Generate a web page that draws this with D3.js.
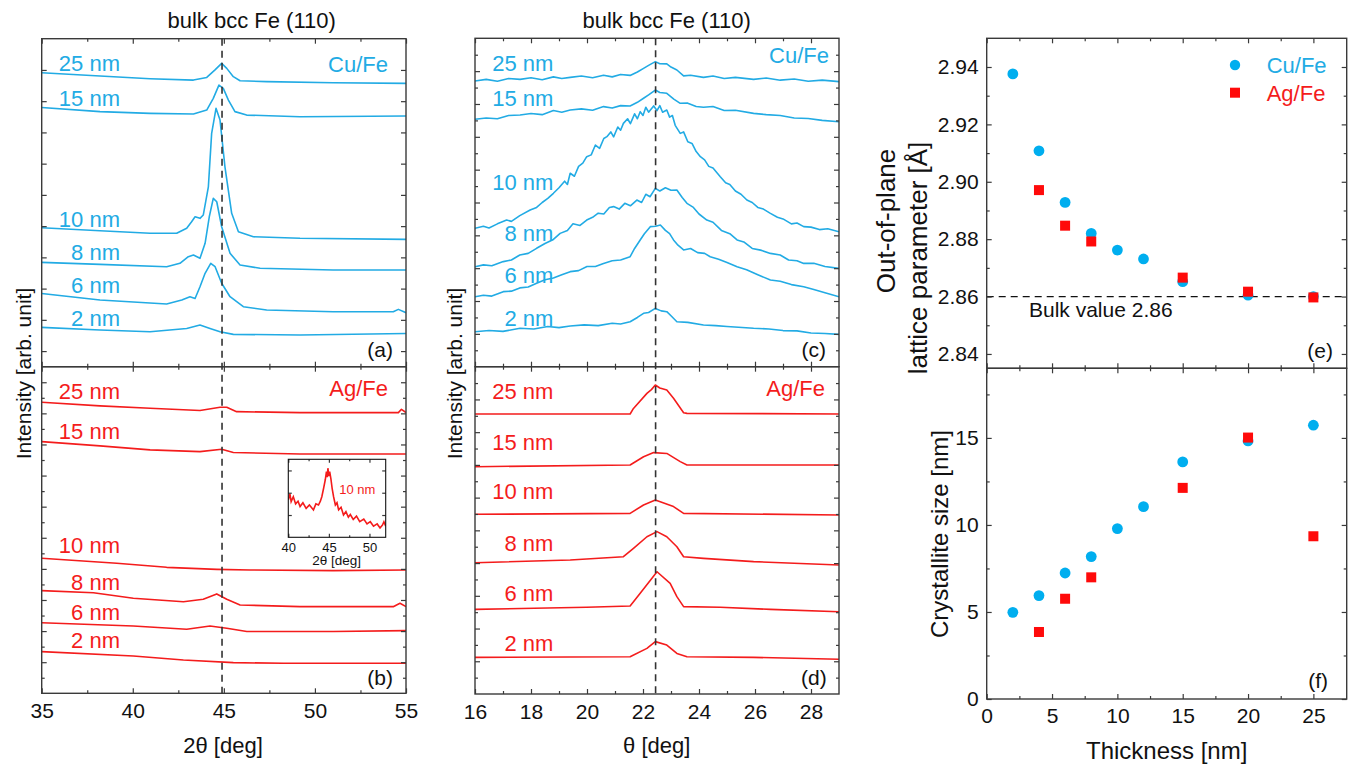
<!DOCTYPE html>
<html>
<head>
<meta charset="utf-8">
<title>Fe (110) thickness series</title>
<script src="https://cdn.jsdelivr.net/npm/d3@7/dist/d3.min.js"></script>
<style>
  body { margin: 0; background: #fff; }
  text { font-family: "Liberation Sans", Arial, Helvetica, sans-serif; }
</style>
</head>
<body>
<svg id="chart" width="1357" height="764"></svg>
<script>
// ---- values ----
const thicknessLabels = ['25 nm', '15 nm', '10 nm', '8 nm', '6 nm', '2 nm'];

// (a) Cu/Fe, 2theta scans  [2theta, intensity]
const a25 = [[35,18.82],[38.2,18.61],[40.95,18.44],[43.33,18.35],[44.06,18.52],[44.5,18.99],[44.88,19.42],[45.16,19.10],[45.52,18.57],[45.89,18.31],[47.35,18.25],[51.0,18.18],[55,18.14]];
const a15 = [[35,16.60],[38.2,16.33],[40.95,16.22],[43.33,16.18],[44.06,16.43],[44.42,17.18],[44.73,18.03],[44.97,17.82],[45.25,17.07],[45.61,16.33],[46.25,16.11],[49.18,16.00],[55,16.05]];
const a10 = [[35,8.90],[38.2,8.70],[40.95,8.54],[42.41,8.54],[42.96,8.86],[43.23,9.28],[43.42,9.60],[43.69,9.50],[43.87,9.71],[44.15,11.52],[44.33,14.94],[44.57,16.54],[44.79,15.79],[45.06,12.80],[45.43,9.82],[45.80,8.64],[46.62,8.32],[49.18,8.22],[55,8.15]];
const a8 = [[35,6.68],[38.2,6.55],[41.86,6.40],[42.59,6.62],[43.05,7.04],[43.33,7.15],[43.69,6.94],[43.97,7.90],[44.20,9.60],[44.42,10.78],[44.61,10.56],[44.88,8.96],[45.34,7.26],[45.89,6.51],[46.99,6.30],[51.0,6.19],[55,6.19]];
const a6 = [[35,4.69],[38.2,4.27],[41.86,4.01],[42.69,4.27],[43.14,4.48],[43.42,4.37],[43.69,5.12],[43.97,5.98],[44.28,6.62],[44.52,6.40],[44.88,5.34],[45.34,4.48],[46.07,3.84],[47.35,3.63],[51.0,3.52],[54.30,3.52],[54.58,3.67],[55,3.46]];
const a2 = [[35,2.52],[38.2,2.35],[40.95,2.24],[42.96,2.45],[43.69,2.67],[44.24,2.45],[44.79,2.24],[45.52,2.07],[49.18,2.03],[55,2.13]];

// (b) Ag/Fe, 2theta scans
const b25 = [[35,18.71],[38.2,18.48],[40.95,18.33],[43.69,18.18],[44.79,18.39],[45.16,18.39],[45.7,18.11],[49.18,18.05],[54.58,18.05],[54.75,18.26],[55,18.05]];
const b15 = [[35,16.18],[38.2,15.91],[40.95,15.65],[43.69,15.54],[44.88,15.69],[45.52,15.48],[49.18,15.39],[55,15.39]];
const b10 = [[35,8.68],[39.12,8.36],[41.86,8.10],[44.61,7.97],[46.44,7.93],[51.0,7.89],[55,7.93]];
const b8 = [[35,6.60],[37.84,6.47],[40.03,6.11],[42.78,5.89],[43.87,6.05],[44.61,6.39],[45.16,6.05],[45.89,5.68],[49.18,5.57],[54.30,5.57],[54.67,5.79],[55,5.57]];
const b6 = [[35,4.54],[40.03,4.33],[42.96,4.12],[44.24,4.33],[45.16,4.18],[46.26,3.97],[51.0,3.97],[55,4.03]];
const b2 = [[35,2.68],[40.03,2.40],[42.78,2.14],[45.52,1.97],[48.27,1.93],[55,1.93]];

// inset of (b): Ag/Fe 10 nm
const inset10 = [[40,1.67],[40.2,1.95],[40.35,1.6],[40.62,1.82],[40.9,1.5],[41.2,1.62],[41.45,1.38],[41.8,1.55],[42.2,1.3],[42.6,1.45],[43.1,1.23],[43.4,1.5],[43.72,1.45],[43.95,1.62],[44.13,1.82],[44.35,2.2],[44.55,2.57],[44.7,2.95],[44.8,2.7],[44.88,3.1],[45.0,2.75],[45.1,2.95],[45.25,2.62],[45.4,2.2],[45.58,1.82],[45.8,1.45],[46.0,1.55],[46.2,1.23],[46.5,1.35],[46.8,1.0],[47.1,1.15],[47.4,0.9],[47.64,1.02],[48.0,0.8],[48.4,0.95],[48.8,0.7],[49.3,0.82],[49.7,0.6],[50.1,0.7],[50.5,0.5],[50.95,0.6],[51.3,0.42],[51.6,0.55],[51.78,0.7],[52,0.5]];

// (c) Cu/Fe, theta scans
const c25 = [[16,17.40],[16.4,17.5],[16.8,17.38],[17.2,17.55],[17.61,17.50],[18.0,17.6],[18.4,17.48],[18.8,17.65],[19.1,17.55],[19.40,17.62],[19.8,17.7],[20.2,17.6],[20.59,17.75],[20.9,17.65],[21.2,17.8],[21.54,17.74],[21.8,17.95],[22.02,18.17],[22.2,18.35],[22.44,18.58],[22.6,18.45],[22.85,18.44],[23.0,18.25],[23.21,18.07],[23.45,17.71],[23.7,17.75],[24.16,17.62],[24.5,17.7],[24.9,17.55],[25.3,17.62],[25.95,17.50],[26.4,17.58],[26.9,17.45],[27.4,17.52],[27.9,17.38],[28.4,17.45],[29,17.36]];
const c15 = [[16,15.07],[16.4,15.15],[16.8,15.1],[17.2,15.3],[17.61,15.33],[18.0,15.42],[18.4,15.35],[18.8,15.6],[19.1,15.5],[19.40,15.63],[19.8,15.7],[20.2,15.62],[20.59,15.84],[20.9,15.75],[21.2,15.9],[21.54,15.88],[21.8,16.1],[22.02,16.35],[22.2,16.55],[22.44,16.85],[22.6,16.7],[22.85,16.65],[23.1,16.3],[23.33,16.04],[23.6,16.05],[23.9,15.85],[24.16,15.80],[24.5,15.85],[24.9,15.6],[25.3,15.62],[25.95,15.43],[26.4,15.35],[26.9,15.3],[27.4,15.15],[27.9,15.12],[28.4,15.0],[29,14.92]];
const c10 = [[16,8.43],[16.3,8.55],[16.5,8.45],[16.8,8.7],[17.13,8.93],[17.3,8.85],[17.6,9.2],[17.97,9.54],[18.2,9.7],[18.4,10.0],[18.6,10.25],[18.80,10.56],[19.0,10.9],[19.2,11.3],[19.3,11.1],[19.40,11.78],[19.55,11.6],[19.7,12.2],[19.85,12.4],[19.99,12.79],[20.15,12.9],[20.3,13.5],[20.45,13.3],[20.6,13.9],[20.71,14.01],[20.85,14.3],[20.95,14.0],[21.1,14.6],[21.2,14.4],[21.30,14.82],[21.45,15.1],[21.55,14.8],[21.7,15.4],[21.8,15.1],[21.90,15.53],[22.0,15.3],[22.1,15.8],[22.2,15.5],[22.38,15.88],[22.5,15.6],[22.6,15.9],[22.7,15.5],[22.85,15.63],[22.95,15.2],[23.05,15.3],[23.15,14.7],[23.33,14.21],[23.45,14.3],[23.6,13.7],[23.75,13.6],[23.9,13.1],[24.05,12.79],[24.2,12.6],[24.35,12.2],[24.5,12.1],[24.76,11.57],[24.95,11.2],[25.1,11.1],[25.3,10.7],[25.5,10.5],[25.71,10.15],[25.9,10.0],[26.1,9.7],[26.3,9.6],[26.55,9.34],[26.8,9.1],[27.0,9.0],[27.3,8.7],[27.5,8.75],[27.74,8.53],[28.0,8.5],[28.3,8.35],[28.6,8.4],[29,8.22]];
const c8 = [[16,6.09],[16.3,6.2],[16.6,6.15],[17.01,6.40],[17.3,6.5],[17.6,6.8],[17.9,6.9],[18.20,7.21],[18.5,7.5],[18.8,7.75],[19.04,8.12],[19.3,8.3],[19.5,8.7],[19.75,8.6],[19.99,8.93],[20.2,9.1],[20.4,9.35],[20.6,9.3],[20.8,9.7],[20.95,9.75],[21.15,9.6],[21.35,9.95],[21.55,9.8],[21.78,10.15],[21.95,10.0],[22.1,10.5],[22.25,10.35],[22.44,10.86],[22.6,10.7],[22.8,10.9],[23.0,10.75],[23.21,10.76],[23.4,10.3],[23.57,9.95],[23.8,9.7],[24.0,9.3],[24.28,8.93],[24.5,8.8],[24.8,8.3],[25.1,8.1],[25.36,7.72],[25.6,7.6],[25.9,7.2],[26.2,7.1],[26.55,6.90],[26.9,6.8],[27.2,6.5],[27.5,6.45],[27.74,6.29],[28.1,6.3],[28.5,6.1],[29,5.99]];
const c6 = [[16,4.26],[16.3,4.35],[16.6,4.3],[17.01,4.57],[17.3,4.6],[17.6,4.8],[17.9,4.85],[18.20,5.08],[18.5,5.3],[18.8,5.4],[19.1,5.6],[19.40,5.79],[19.7,5.85],[20.0,6.1],[20.3,6.1],[20.59,6.29],[20.9,6.45],[21.2,6.5],[21.54,6.70],[21.7,7.2],[21.90,7.72],[22.05,8.1],[22.26,8.53],[22.45,8.55],[22.62,8.63],[22.8,8.3],[22.95,8.1],[23.09,7.72],[23.25,7.4],[23.45,7.11],[23.7,7.2],[23.95,6.95],[24.2,6.9],[24.40,6.70],[24.7,6.55],[25.0,6.35],[25.36,6.09],[25.7,5.9],[26.1,5.6],[26.55,5.28],[26.9,5.2],[27.3,5.0],[27.74,4.87],[28.1,4.7],[28.5,4.5],[29,4.26]];
const c2 = [[16,2.13],[16.5,2.2],[17.0,2.15],[17.61,2.34],[18.1,2.3],[18.6,2.45],[19.0,2.38],[19.40,2.48],[19.9,2.55],[20.4,2.5],[20.9,2.65],[21.2,2.6],[21.54,2.74],[21.8,3.0],[22.02,3.25],[22.2,3.3],[22.44,3.55],[22.65,3.4],[22.85,3.35],[23.0,3.1],[23.21,2.74],[23.6,2.7],[24.16,2.54],[24.6,2.5],[25.0,2.45],[25.95,2.34],[26.5,2.3],[27.0,2.2],[27.5,2.18],[28.0,2.05],[28.5,2.02],[29,1.97]];

// (d) Ag/Fe, theta scans
const d25 = [[16,17.11],[21.54,17.11],[21.66,17.45],[22.14,18.37],[22.3,18.6],[22.44,18.88],[22.6,18.7],[22.85,18.57],[23.09,18.07],[23.45,17.19],[23.57,17.15],[29,17.11]];
const d15 = [[16,13.89],[21.54,13.99],[22.02,14.50],[22.38,14.75],[22.85,14.70],[23.33,14.20],[23.57,13.99],[29,13.99]];
const d10 = [[16,10.98],[21.54,11.04],[22.02,11.55],[22.44,11.85],[23.09,11.45],[23.45,11.04],[29,10.94]];
const d8 = [[16,8.02],[19.40,8.19],[21.30,8.39],[21.66,8.90],[22.14,9.61],[22.50,9.92],[22.85,9.61],[23.21,9.00],[23.45,8.39],[24.16,8.29],[25.95,8.09],[29,7.88]];
const d6 = [[16,5.17],[19.99,5.30],[21.54,5.38],[21.90,6.15],[22.32,7.07],[22.50,7.47],[22.97,6.76],[23.21,5.95],[23.45,5.34],[24.76,5.30],[26.55,5.17],[29,5.03]];
const d2 = [[16,2.24],[21.54,2.28],[22.14,2.79],[22.44,3.20],[22.85,2.99],[23.21,2.48],[23.57,2.28],[25.95,2.24],[29,2.12]];

// (e)/(f) vs thickness
const thicknessCu = [2, 4, 6, 8, 10, 12, 15, 20, 25];
const latticeCu = [2.9376, 2.9108, 2.8928, 2.8820, 2.8762, 2.8731, 2.8652, 2.8605, 2.8600];
const sizeCu = [4.98, 5.94, 7.24, 8.18, 9.79, 11.05, 13.62, 14.83, 15.73];
const thicknessAg = [4, 6, 8, 15, 20, 25];
const latticeAg = [2.8971, 2.8847, 2.8792, 2.8666, 2.8617, 2.8597];
const sizeAg = [3.85, 5.76, 6.99, 12.13, 15.02, 9.35];
const bulkLattice = 2.86;

// tick values
const ticks2Theta = [35, 40, 45, 50, 55];
const ticksTheta = [16, 18, 20, 22, 24, 26, 28];
const ticksThickness = [0, 5, 10, 15, 20, 25];
const ticksLattice = [2.84, 2.86, 2.88, 2.90, 2.92, 2.94];
const ticksSize = [0, 5, 10, 15];
const ticksInset = [40, 45, 50];

// ---- styling ----
const CU = '#22abe4';
const AG = '#f41c1c';
const CU_MARK = '#00aeef';
const AG_MARK = '#ff0a0a';
const AXIS = '#3a3a3a';
const FONT = '"Liberation Sans", Arial, Helvetica, sans-serif';

const svg = d3.select('#chart');
let clipCount = 0;
const range = (a, b, s) => d3.range(a, b + s / 2, s);

function tickAxis(parent, axis, transform, size) {
  const a = parent.append('g')
    .attr('transform', transform)
    .call(axis)
    .attr('font-family', FONT)
    .attr('font-size', size || 21);
  a.select('.domain').remove();
  a.selectAll('line').attr('stroke', AXIS).attr('stroke-width', 1.2);
  a.selectAll('text').attr('fill', '#111');
  return a;
}

function makePanel(p) {
  const x = d3.scaleLinear().domain(p.xDomain).range([p.x0, p.x1]);
  const y = d3.scaleLinear().domain(p.yDomain).range([p.y1, p.y0]);
  const id = 'clip' + (clipCount++);
  svg.append('clipPath').attr('id', id).append('rect')
    .attr('x', p.x0).attr('y', p.y0).attr('width', p.x1 - p.x0).attr('height', p.y1 - p.y0);
  const g = svg.append('g');
  if (p.bg) {
    g.append('rect').attr('x', p.x0).attr('y', p.y0)
      .attr('width', p.x1 - p.x0).attr('height', p.y1 - p.y0).attr('fill', '#fff');
  }
  const plot = g.append('g').attr('clip-path', `url(#${id})`);
  const axes = g.append('g');
  const L = p.tickLen || 5, S = p.minorLen || 3;
  const none = () => '';
  const fs = p.fontSize || 21;

  // bottom / top
  tickAxis(axes, d3.axisBottom(x).tickValues(p.xMajor).tickSizeInner(-L).tickSizeOuter(0)
    .tickPadding(p.xPad || 10).tickFormat(p.xFmt || none), `translate(0,${p.y1})`, fs);
  tickAxis(axes, d3.axisTop(x).tickValues(p.xMajor).tickSizeInner(-L).tickSizeOuter(0)
    .tickFormat(none), `translate(0,${p.y0})`);
  if (p.xMinor) {
    tickAxis(axes, d3.axisBottom(x).tickValues(p.xMinor).tickSizeInner(-S).tickSizeOuter(0)
      .tickFormat(none), `translate(0,${p.y1})`);
    tickAxis(axes, d3.axisTop(x).tickValues(p.xMinor).tickSizeInner(-S).tickSizeOuter(0)
      .tickFormat(none), `translate(0,${p.y0})`);
  }
  // left / right
  tickAxis(axes, d3.axisLeft(y).tickValues(p.yMajor).tickSizeInner(-L).tickSizeOuter(0)
    .tickPadding(p.yPad || 8).tickFormat(p.yFmt || none), `translate(${p.x0},0)`, fs);
  tickAxis(axes, d3.axisRight(y).tickValues(p.yMajor).tickSizeInner(-L).tickSizeOuter(0)
    .tickFormat(none), `translate(${p.x1},0)`);
  if (p.yMinor) {
    tickAxis(axes, d3.axisLeft(y).tickValues(p.yMinor).tickSizeInner(-S).tickSizeOuter(0)
      .tickFormat(none), `translate(${p.x0},0)`);
    tickAxis(axes, d3.axisRight(y).tickValues(p.yMinor).tickSizeInner(-S).tickSizeOuter(0)
      .tickFormat(none), `translate(${p.x1},0)`);
  }
  axes.append('rect')
    .attr('x', p.x0).attr('y', p.y0)
    .attr('width', p.x1 - p.x0).attr('height', p.y1 - p.y0)
    .attr('fill', 'none').attr('stroke', p.frame || AXIS).attr('stroke-width', p.frameW || 1.4);
  return { x, y, plot, axes, g, p };
}

function drawScans(panel, scans, color, labelEndX, labelY) {
  const line = d3.line().x(d => panel.x(d[0])).y(d => panel.y(d[1]));
  panel.plot.selectAll(null)
    .data(scans)
    .join('path')
    .attr('d', line)
    .attr('fill', 'none')
    .attr('stroke', color)
    .attr('stroke-width', 1.6)
    .attr('stroke-linejoin', 'round');
  panel.g.selectAll(null)
    .data(thicknessLabels)
    .join('text')
    .attr('x', labelEndX)
    .attr('y', (d, i) => labelY[i])
    .attr('text-anchor', 'end')
    .attr('fill', color)
    .attr('font-size', 22)
    .text(d => d);
}

function addText(txt, x, y, opts = {}) {
  const t = svg.append('text')
    .attr('x', x).attr('y', y)
    .attr('font-size', opts.size || 21)
    .attr('fill', opts.color || '#111')
    .attr('text-anchor', opts.anchor || 'start')
    .text(txt);
  if (opts.rotate) t.attr('transform', `rotate(-90,${x},${y})`);
  return t;
}

function vDashed(x, y0, y1) {
  svg.append('line')
    .attr('x1', x).attr('x2', x).attr('y1', y0).attr('y2', y1)
    .attr('stroke', '#333').attr('stroke-width', 1.6)
    .attr('stroke-dasharray', '7,5');
}

// ---- (a) and (b) ----
const pa = makePanel({
  x0: 41.7, x1: 406, y0: 38.7, y1: 366.7,
  xDomain: [35, 55], yDomain: [0, 21],
  xMajor: ticks2Theta, xMinor: [37.5, 42.5, 47.5, 52.5],
  yMajor: range(1, 19, 2)
});
drawScans(pa, [a25, a15, a10, a8, a6, a2], CU, 120, [71, 106, 226.7, 260, 293.3, 325.7]);

const pb = makePanel({
  x0: 41.7, x1: 406, y0: 366.7, y1: 693.3,
  xDomain: [35, 55], yDomain: [0, 21],
  xMajor: ticks2Theta, xMinor: [37.5, 42.5, 47.5, 52.5],
  yMajor: range(2, 20, 2), yMinor: range(1, 19, 2),
  xFmt: d3.format('d'), xPad: 10
});
drawScans(pb, [b25, b15, b10, b8, b6, b2], AG, 120, [399.3, 439, 553.3, 590, 620, 647.7]);

vDashed(pa.x(44.9), 38.7, 693.3);

// inset
const pin = makePanel({
  x0: 288.3, x1: 385.7, y0: 459.3, y1: 537.3,
  xDomain: [40, 52], yDomain: [0, 3.5],
  xMajor: ticksInset, xMinor: [42.5, 47.5],
  yMajor: [1, 2, 3],
  tickLen: 3.5, minorLen: 2,
  xFmt: d3.format('d'), xPad: 5, fontSize: 13,
  frame: '#111', frameW: 1.1, bg: true
});
pin.plot.append('path')
  .attr('d', d3.line().x(d => pin.x(d[0])).y(d => pin.y(d[1]))(inset10))
  .attr('fill', 'none').attr('stroke', AG).attr('stroke-width', 1.6);
addText('10 nm', 339.3, 494, { size: 13, color: AG });
addText('2θ [deg]', 336.7, 565, { size: 13.5, anchor: 'middle' });

// ---- (c) and (d) ----
const pc = makePanel({
  x0: 475, x1: 839, y0: 38.3, y1: 366.7,
  xDomain: [16, 29], yDomain: [0, 20],
  xMajor: ticksTheta, xMinor: range(17, 27, 2),
  yMajor: range(2, 18, 2), yMinor: range(1, 19, 2)
});
drawScans(pc, [c25, c15, c10, c8, c6, c2], CU, 553.3, [70.7, 106, 190, 240.7, 283.3, 326]);

const pd = makePanel({
  x0: 475, x1: 839, y0: 366.7, y1: 694,
  xDomain: [16, 29], yDomain: [0, 20],
  xMajor: ticksTheta, xMinor: range(17, 27, 2),
  yMajor: range(2, 18, 2), yMinor: range(1, 19, 2),
  xFmt: d3.format('d'), xPad: 10
});
drawScans(pd, [d25, d15, d10, d8, d6, d2], AG, 553.3, [399.3, 450, 499.3, 551, 600.7, 651]);

vDashed(pc.x(22.45), 38.3, 694);

// ---- (e) and (f) ----
const pe = makePanel({
  x0: 986.7, x1: 1346.7, y0: 38.3, y1: 368.3,
  xDomain: [0, 27.55], yDomain: [2.835, 2.95],
  xMajor: ticksThickness, xMinor: [2.5, 7.5, 12.5, 17.5, 22.5],
  yMajor: ticksLattice, yMinor: [2.85, 2.87, 2.89, 2.91, 2.93],
  yFmt: d3.format('.2f'), yPad: 8
});
const pf = makePanel({
  x0: 986.7, x1: 1346.7, y0: 368.3, y1: 699,
  xDomain: [0, 27.55], yDomain: [0, 19],
  xMajor: ticksThickness, xMinor: [2.5, 7.5, 12.5, 17.5, 22.5],
  yMajor: ticksSize, yMinor: [2.5, 7.5, 12.5, 17.5],
  xFmt: d3.format('d'), yFmt: d3.format('d'), xPad: 9, yPad: 8
});

pe.plot.append('line')
  .attr('x1', pe.x(0)).attr('x2', pe.x(27.55))
  .attr('y1', pe.y(bulkLattice)).attr('y2', pe.y(bulkLattice))
  .attr('stroke', '#111').attr('stroke-width', 1.3).attr('stroke-dasharray', '7,5');

function scatter(panel, xs, ys, kind, color) {
  const pts = xs.map((t, i) => [t, ys[i]]);
  if (kind === 'circle') {
    panel.plot.selectAll(null).data(pts).join('circle')
      .attr('cx', d => panel.x(d[0])).attr('cy', d => panel.y(d[1]))
      .attr('r', 5.4).attr('fill', color);
  } else {
    const s = 10;
    panel.plot.selectAll(null).data(pts).join('rect')
      .attr('x', d => panel.x(d[0]) - s / 2).attr('y', d => panel.y(d[1]) - s / 2)
      .attr('width', s).attr('height', s).attr('fill', color);
  }
}
scatter(pe, thicknessCu, latticeCu, 'circle', CU_MARK);
scatter(pe, thicknessAg, latticeAg, 'square', AG_MARK);
scatter(pf, thicknessCu, sizeCu, 'circle', CU_MARK);
scatter(pf, thicknessAg, sizeAg, 'square', AG_MARK);

addText('Bulk value 2.86', 1029, 316.7, { size: 21 });

// legend
svg.append('circle').attr('cx', 1235).attr('cy', 65).attr('r', 5.2).attr('fill', CU_MARK);
svg.append('rect').attr('x', 1230).attr('y', 87.7).attr('width', 10).attr('height', 10).attr('fill', AG_MARK);
addText('Cu/Fe', 1266.7, 73, { size: 22, color: CU });
addText('Ag/Fe', 1266.7, 100.5, { size: 22, color: AG });

// ---- panel texts ----
addText('bulk bcc Fe (110)', 251.7, 28, { size: 22, anchor: 'middle' });
addText('bulk bcc Fe (110)', 666.7, 28, { size: 22, anchor: 'middle' });

addText('Cu/Fe', 388, 71.7, { size: 22, color: CU, anchor: 'end' });
addText('Ag/Fe', 388, 396, { size: 22, color: AG, anchor: 'end' });
addText('Cu/Fe', 829, 63, { size: 22, color: CU, anchor: 'end' });
addText('Ag/Fe', 825, 396, { size: 22, color: AG, anchor: 'end' });

addText('(a)', 393, 356.7, { anchor: 'end' });
addText('(b)', 393, 685, { anchor: 'end' });
addText('(c)', 826, 356.7, { anchor: 'end' });
addText('(d)', 826.7, 685, { anchor: 'end' });
addText('(e)', 1333, 358, { anchor: 'end' });
addText('(f)', 1328, 688, { anchor: 'end' });

// axis titles
addText('Intensity [arb. unit]', 31, 373.5, { size: 21, anchor: 'middle', rotate: true });
addText('Intensity [arb. unit]', 462, 373.5, { size: 21, anchor: 'middle', rotate: true });
addText('2θ [deg]', 223, 753, { size: 22, anchor: 'middle' });
addText('θ [deg]', 656.7, 753, { size: 22, anchor: 'middle' });
addText('Out-of-plane', 895, 221, { size: 26, anchor: 'middle', rotate: true });
addText('lattice parameter [Å]', 926.7, 258, { size: 26, anchor: 'middle', rotate: true });
addText('Crystallite size [nm]', 948, 534, { size: 24, anchor: 'middle', rotate: true });
addText('Thickness [nm]', 1166.7, 759, { size: 24, anchor: 'middle' });
</script>
</body>
</html>
